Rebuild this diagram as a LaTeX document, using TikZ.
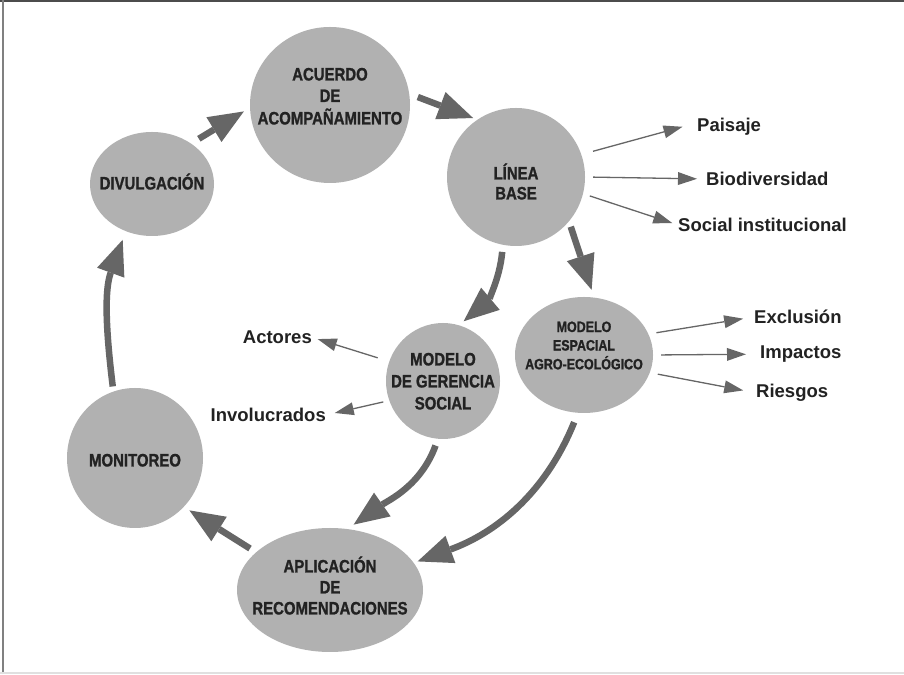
\documentclass[tikz,border=0pt]{standalone}
\usepackage{fontspec}
\setmainfont{Liberation Sans}
\newfontfamily\narrowfont[FakeStretch=0.83, BoldFeatures={FakeBold=1.2}]{Liberation Sans}
\usetikzlibrary{shapes.geometric,arrows.meta}
\definecolor{circfill}{HTML}{B1B1B1}
\definecolor{arrgray}{HTML}{666666}
\definecolor{txtc}{HTML}{222222}
\newcommand\stg[4]{\makebox[0pt]{\raisebox{#1}[0pt][0pt]{\fontsize{#2}{#3}\selectfont\begin{tabular}[b]{@{}c@{}}#4\end{tabular}}}}
\tikzset{
 stage/.style={ellipse, fill=circfill, inner sep=0pt, text=txtc, font=\narrowfont\bfseries},
 lbl/.style={inner sep=0pt, text=txtc, font=\fontsize{18.5}{22}\selectfont\bfseries},
 cyclearrow/.style={draw=arrgray, line width=6.5pt, -{Triangle[length=35pt,width=29pt,line width=0pt]}},
 lblarrow/.style={draw=arrgray, line width=1.3pt, -{Triangle[length=19pt,width=13pt,line width=0pt]}},
}
\begin{document}
\begin{tikzpicture}[x=1pt,y=1pt]
\fill[white] (0,0) rectangle (904,674);
\useasboundingbox (0,0) rectangle (904,674);
% frame
\draw[line width=1.5pt, color=black!70] (0,673.2) -- (904,673.2);
\draw[line width=1.5pt, color=black!50] (3,0) -- (3,674);
\draw[line width=1.5pt, color=black!12] (0,1.2) -- (904,1.2);

% stages
\node[stage, minimum width=160pt, minimum height=156pt] (acu) at (330,569)
  {\stg{-19.45pt}{18}{21.5}{ACUERDO\\DE\\ACOMPAÑAMIENTO}};
\node[stage, minimum width=138pt, minimum height=138pt] (lb) at (516,497)
  {\stg{-22.45pt}{18}{20}{LÍNEA\\BASE}};
\node[stage, minimum width=124pt, minimum height=104pt] (div) at (152,490)
  {\stg{-5.45pt}{18}{21.5}{DIVULGACIÓN}};
\node[stage, minimum width=136pt, minimum height=140pt] (mon) at (135,216)
  {\stg{-8.45pt}{18}{21.5}{MONITOREO}};
\node[stage, minimum width=186pt, minimum height=124pt] (apl) at (330,84)
  {\stg{-24.45pt}{18}{21}{APLICACIÓN\\DE\\RECOMENDACIONES}};
\node[stage, minimum width=114pt, minimum height=116pt] (ger) at (443,293)
  {\stg{-28.45pt}{18}{22}{MODELO\\DE GERENCIA\\SOCIAL}};
\node[stage, minimum width=138pt, minimum height=116pt] (esp) at (584,319)
  {\stg{-14.35pt}{15}{18.5}{MODELO\\ESPACIAL\\AGRO-ECOLÓGICO}};

% labels
\node[lbl, anchor=base west] (paisaje) at (697,542.4) {Paisaje};
\node[lbl, anchor=base west] (bio) at (706,488.4) {Biodiversidad};
\node[lbl, anchor=base west] (social) at (678,442.4) {Social institucional};
\node[lbl, anchor=base west] (excl) at (754,350.4) {Exclusión};
\node[lbl, anchor=base west] (imp) at (760,315.4) {Impactos};
\node[lbl, anchor=base west] (ries) at (756,276.4) {Riesgos};
\node[lbl, anchor=base east] (act) at (312,330.4) {Actores};
\node[lbl, anchor=base east] (inv) at (326,252.4) {Involucrados};

% cycle arrows
\draw[cyclearrow, shorten <=9pt, shorten >=7pt] (div.46) -- (acu.182);
\draw[cyclearrow, shorten <=9pt, shorten >=4.5pt] (acu.8) -- (lb.124);
\draw[cyclearrow, shorten <=5.5pt, shorten >=8pt] (lb.-40) -- (esp.80);
\draw[cyclearrow, shorten <=7pt, shorten >=6pt] (lb.-101) to[out=-95,in=40] (ger.74);
\draw[cyclearrow, shorten <=7pt, shorten >=7.5pt] (ger.-95) to[out=-110,in=35] (apl.74);
\draw[cyclearrow, shorten <=10pt, shorten >=4pt] (esp.-96) to[out=-112,in=20] (apl.18);
\draw[cyclearrow, shorten <=7pt, shorten >=6.5pt] (apl.153) -- (mon.-45);
\draw[cyclearrow, shorten <=5pt, shorten >=9pt] (mon.108) to[out=97,in=-110] (div.-119);

% label arrows
\draw[lblarrow, shorten <=12pt, shorten >=15pt] (lb.19) -- ([yshift=4pt]paisaje.west);
\draw[lblarrow, shorten <=8pt, shorten >=9pt] (lb.0) -- (bio.west);
\draw[lblarrow, shorten <=7pt, shorten >=6pt] (lb.-14) -- (social.west);
\draw[lblarrow, shorten <=8pt, shorten >=11pt] (esp.18) -- (excl.west);
\draw[lblarrow, shorten <=8pt, shorten >=14pt] (esp.0) -- (imp.west);
\draw[lblarrow, shorten <=8pt, shorten >=13pt] (esp.-15) -- (ries.west);
\draw[lblarrow, shorten <=12pt, shorten >=6pt] (ger.160) -- (act.east);
\draw[lblarrow, shorten <=6pt, shorten >=9pt] (ger.200) -- (inv.east);
\end{tikzpicture}
\end{document}
